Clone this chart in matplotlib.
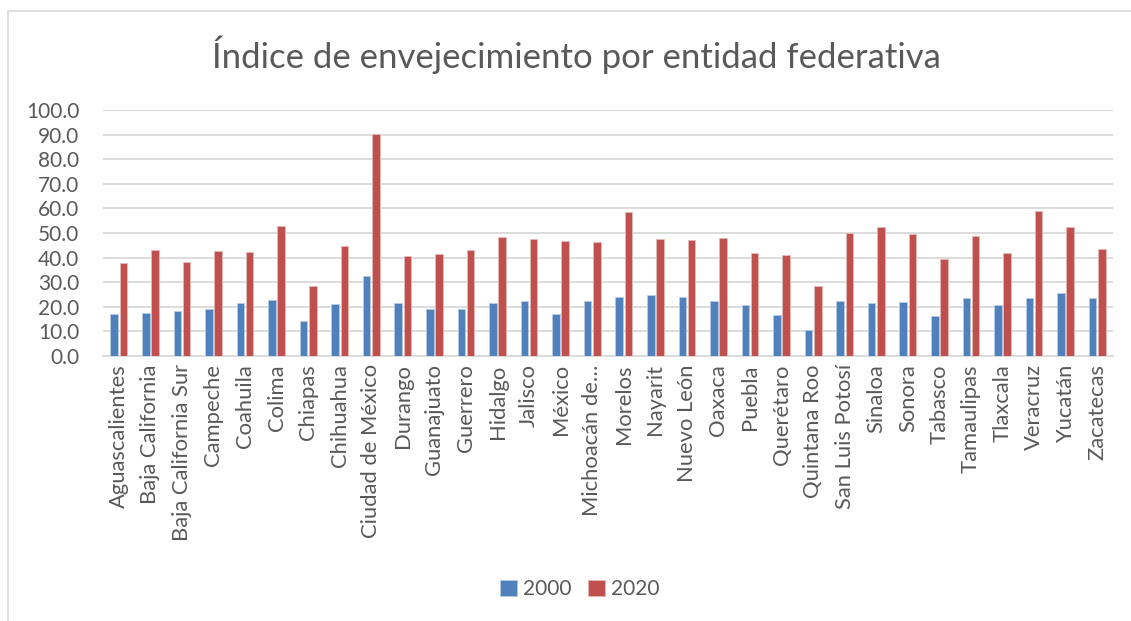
import matplotlib
matplotlib.use("Agg")
import matplotlib.pyplot as plt
import numpy as np
from matplotlib.patches import Rectangle

states = ["Aguascalientes", "Baja California", "Baja California Sur", "Campeche", "Coahuila",
          "Colima", "Chiapas", "Chihuahua", "Ciudad de México", "Durango", "Guanajuato",
          "Guerrero", "Hidalgo", "Jalisco", "México", "Michoacán de…", "Morelos", "Nayarit",
          "Nuevo León", "Oaxaca", "Puebla", "Querétaro", "Quintana Roo", "San Luis Potosí",
          "Sinaloa", "Sonora", "Tabasco", "Tamaulipas", "Tlaxcala", "Veracruz", "Yucatán",
          "Zacatecas"]
v2000 = [17.1, 17.3, 18.3, 19.0, 21.5, 22.6, 14.2, 21.3, 32.5, 21.5, 19.2,
         19.1, 21.4, 22.2, 16.9, 22.4, 23.8, 24.7, 24.1, 22.2, 20.6, 16.5,
         10.7, 22.2, 21.5, 22.0, 16.3, 23.7, 20.7, 23.4, 25.6, 23.7]
v2020 = [37.7, 43.1, 38.2, 42.5, 42.3, 52.8, 28.6, 44.7, 90.2, 40.8, 41.6,
         43.0, 48.5, 47.4, 46.6, 46.3, 58.4, 47.6, 47.3, 48.0, 41.9, 41.2,
         28.6, 49.9, 52.6, 49.5, 39.3, 48.8, 41.9, 58.9, 52.4, 43.4]
series_names = ["2000", "2020"]
yticks = np.arange(0, 101, 10)

plt.rcParams['font.family'] = ['Lato', 'DejaVu Sans']
txt = '#595959'

fig = plt.figure(figsize=(11.31, 6.21), dpi=100)
ax = fig.add_axes([103/1131, 1-356/621, (1113-103)/1131, (356-110)/621])

# outer border
fig.patches.append(Rectangle((8/1131, -0.05), 1.2, 1-11/621+0.05, transform=fig.transFigure,
                             fill=False, edgecolor='#d9d9d9', linewidth=1.2))

x = np.arange(len(states))
w = 0.24
ax.bar(x - 0.145, v2000, width=w, color='#4F81BD', edgecolor='#b8cce4', linewidth=0.6,
       label=series_names[0], zorder=3)
ax.bar(x + 0.145, v2020, width=w, color='#C0504D', edgecolor='#e6b9b8', linewidth=0.6,
       label=series_names[1], zorder=3)

ax.set_xlim(-0.5, len(states) - 0.5)
ax.set_ylim(0, 100)
ax.set_yticks(yticks)
ax.set_yticklabels([f"{v:.1f}" for v in yticks], fontsize=15, color=txt)
ax.set_xticks(x)
ax.set_xticklabels(states, rotation=90, fontsize=15.8, color=txt)
ax.tick_params(axis='y', length=0, pad=17)
ax.tick_params(axis='x', length=0, pad=6)
ax.grid(axis='y', color='#d9d9d9', linewidth=1.3, zorder=0)
for s in ['top', 'right', 'left']:
    ax.spines[s].set_visible(False)
ax.spines['bottom'].set_color('#d9d9d9')
ax.spines['bottom'].set_linewidth(1.3)

fig.text(576/1131, 1-55/621, "Índice de envejecimiento por entidad federativa",
         ha='center', va='center', fontsize=25, color=txt)

handles, labels = ax.get_legend_handles_labels()
fig.legend(handles, labels, loc='center', bbox_to_anchor=(580/1131, 1-589/621), ncol=2,
           frameon=False, fontsize=15, labelcolor=txt, handlelength=0.8, handleheight=0.8,
           handletextpad=0.3, columnspacing=0.8)

fig.savefig("out.png", dpi=100)
